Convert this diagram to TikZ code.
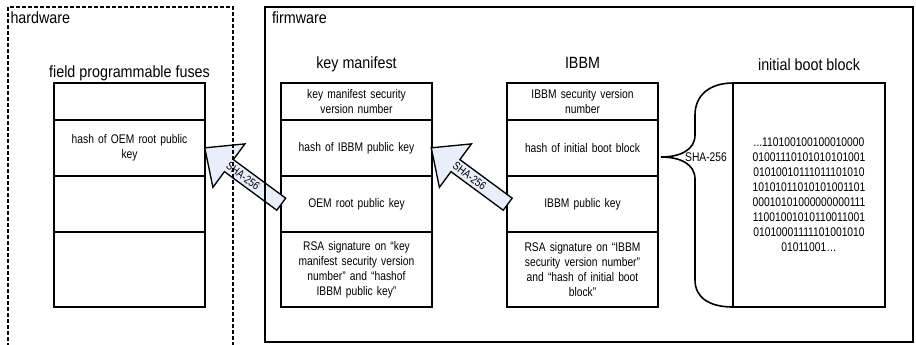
\documentclass[tikz,border=0pt]{standalone}
\usepackage{fontspec}
\setmainfont[FakeStretch=0.82]{Liberation Sans}
\newfontfamily\titlefont[FakeStretch=0.88]{Liberation Sans}
\usetikzlibrary{calc}

\definecolor{arrowfill}{RGB}{232,238,250}

\tikzset{every picture/.style={line width=0.75pt}}
\tikzset{
  cell/.style={draw, line width=1.3pt, outer sep=0pt, inner sep=0pt, minimum width=113.25pt, text width=106pt, align=center, font=\fontsize{9.4}{11.25}\selectfont},
  rowa/.style={minimum height=27.75pt},
  rowb/.style={minimum height=42pt},
  rowc/.style={minimum height=56.25pt},
  coltitle/.style={anchor=base, inner sep=0pt, font=\titlefont\fontsize{12.2}{14}\selectfont},
  frametitle/.style={anchor=base west, inner sep=0pt, font=\titlefont\fontsize{12.2}{14}\selectfont},
  blockarrow/.style={draw, line width=1pt, fill=arrowfill, line join=miter},
  arrowtext/.style={inner sep=0pt, rotate=-36.4, font=\fontsize{8.6}{9}\selectfont},
}

\begin{document}
\begin{tikzpicture}[x=0.75pt,y=0.75pt,yscale=-1,xscale=1]
\useasboundingbox (0,0) rectangle (916,344);

%Shape: Rectangle [fuses]
\node[cell,rowa] (fu1) at (129.5,101.5) {};
\node[cell,rowb] (fu2) at (129.5,148) {hash of OEM root public\\key};
\node[cell,rowb] (fu3) at (129.5,204) {};
\node[cell,rowc] (fu4) at (129.5,269.5) {};

%Shape: Rectangle [key manifest]
\node[cell,rowa] (km1) at (356.5,101.5) {key manifest security\\version number};
\node[cell,rowb] (km2) at (356.5,148) {hash of IBBM public key};
\node[cell,rowb] (km3) at (356.5,204) {OEM root public key};
\node[cell,rowc] (km4) at (356.5,269.5) {RSA signature on “key\\manifest security version\\number” and “hashof\\IBBM public key”};

%Shape: Rectangle [IBBM]
\node[cell,rowa] (ib1) at (582.5,101.5) {IBBM security version\\number};
\node[cell,rowb] (ib2) at (582.5,148) {hash of initial boot block};
\node[cell,rowb] (ib3) at (582.5,204) {IBBM public key};
\node[cell,rowc] (ib4) at (582.5,269.5) {RSA signature on “IBBM\\security version number”\\and “hash of initial boot\\block”};

%Shape: Rectangle [initial boot block]
\node[cell, minimum width=114pt, minimum height=168pt] (boot) at (809,195) {...110100100100010000\\01001110101010101001\\01010010111011101010\\10101011010101001101\\00010101000000000111\\11001001010110011001\\01010001111101001010\\01011001…};

% Text Node
\node[coltitle] (futitle) at (129.5,77) {field programmable fuses};
% Text Node
\node[coltitle] (kmtitle) at (356.5,68) {key manifest};
% Text Node
\node[coltitle] (ibtitle) at (582.5,68) {IBBM};
% Text Node
\node[coltitle] (boottitle) at (809,70) {initial boot block};

%Block Arrows [from km3 to fu2, from ib3 to km2]
\begin{scope}[shift={($(fu2.east)!0.5!(km3.west)$)}, rotate=-143.6]
\draw[blockarrow] (-47.5,-7.5) -- (17.5,-7.5) -- (17.5,-27) -- (47.5,0) -- (17.5,27) -- (17.5,7.5) -- (-47.5,7.5) -- cycle;
\node[arrowtext] (arr1lbl) at (0,0) {SHA-256};
\end{scope}
\begin{scope}[shift={($(km2.east)!0.5!(ib3.west)$)}, rotate=-143.6]
\draw[blockarrow] (-47.5,-7.5) -- (17.5,-7.5) -- (17.5,-27) -- (47.5,0) -- (17.5,27) -- (17.5,7.5) -- (-47.5,7.5) -- cycle;
\node[arrowtext] (arr2lbl) at (0,0) {SHA-256};
\end{scope}

%Curve Lines [brace]
\coordinate (tip) at ($(ib2.east)+(3,9)$);
\draw[line width=1.2pt] (boot.north west) .. controls (710,83) and (695,95) .. (695,115) -- (695,135) .. controls (695,150) and (680,157) .. (tip) .. controls (680,157) and (695,164) .. (695,179) -- (695,280) .. controls (695,298) and (710,307) .. (boot.south west);
% Text Node
\node[inner sep=0pt, font=\fontsize{9.4}{11.25}\selectfont] (shalbl) at (706,157.5) {SHA-256};

%Shape: Rectangle [frames]
\draw[line width=0.9pt, dash pattern=on 3pt off 1.5pt] (8,7) rectangle (233,352);
\draw[line width=0.9pt] (265,7) rectangle (913,342);
% Text Node
\node[frametitle] (hwlbl) at (10,23) {hardware};
% Text Node
\node[frametitle] (fwlbl) at (271.5,23) {firmware};

\end{tikzpicture}
\end{document}
